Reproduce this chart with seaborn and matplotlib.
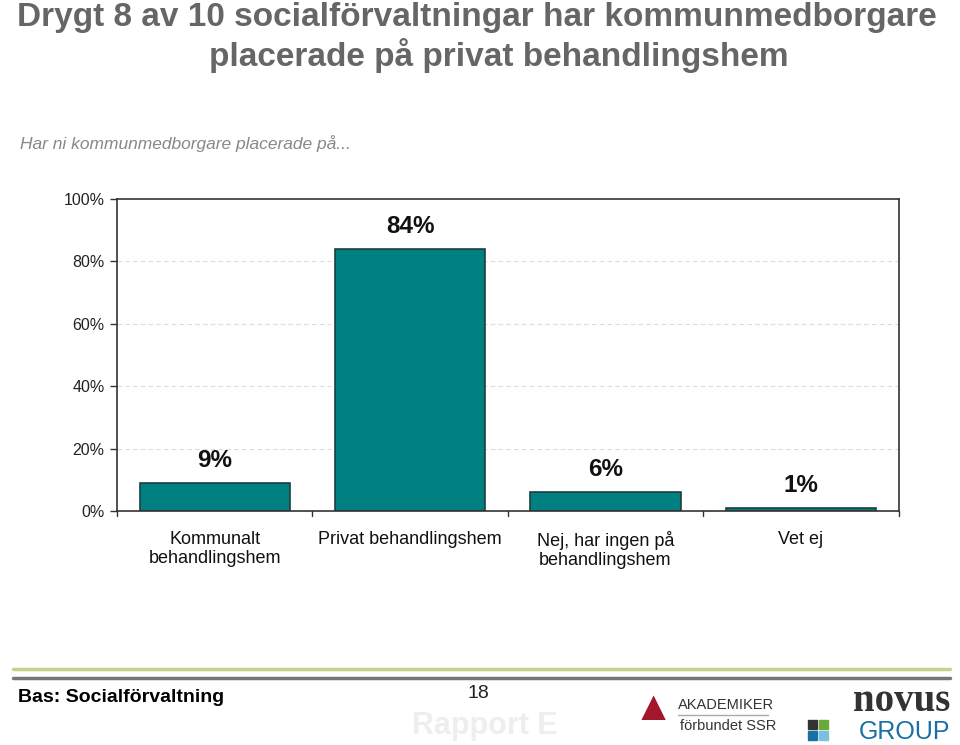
import matplotlib
matplotlib.use("Agg")
import matplotlib.pyplot as plt
import seaborn as sns
import pandas as pd
from matplotlib.lines import Line2D
from matplotlib.patches import Rectangle

# Data
categories = ["Kommunalt\nbehandlingshem", "Privat behandlingshem",
              "Nej, har ingen på\nbehandlingshem", "Vet ej"]
values = [9, 84, 6, 1]
value_labels = ["9%", "84%", "6%", "1%"]
y_ticks = [0, 20, 40, 60, 80, 100]

df = pd.DataFrame({"kategori": categories, "andel": values})

sns.set_theme(style="white")
plt.rcParams["font.family"] = ["Liberation Sans", "DejaVu Sans"]

fig = plt.figure(figsize=(9.6, 7.45), dpi=100)
ax = fig.add_axes([0.122, 0.314, 0.814, 0.419])

sns.barplot(data=df, x="kategori", y="andel", color="#008080", saturation=1,
            width=0.77, edgecolor="#1f3f3f", linewidth=1.2, ax=ax)

ax.set_ylim(0, 100)
ax.set_xlim(-0.5, len(categories) - 0.5)
ax.set_yticks(y_ticks)
ax.set_yticklabels([f"{t}%" for t in y_ticks], fontsize=11.5, color="#222222")
ax.set_xticks(range(len(categories)))
ax.set_xticklabels(categories, fontsize=13, color="#111111")
ax.tick_params(axis="x", length=0, pad=14)
ax.tick_params(axis="y", length=5, width=1, color="#333333", left=True, pad=4)
ax.set_xlabel("")
ax.set_ylabel("")

# category boundary ticks on x axis
for b in [k - 0.5 for k in range(len(categories) + 1)]:
    ax.plot([b, b], [0, -1.5], color="#333333", lw=1, clip_on=False)

for y in y_ticks[1:-1]:
    ax.axhline(y, color="#dddddd", lw=0.8, ls=(0, (4, 3)), zorder=0)

for s in ax.spines.values():
    s.set_color("#333333")
    s.set_linewidth(1.2)

for i, (v, lab) in enumerate(zip(values, value_labels)):
    ax.text(i, v + 7.2, lab, ha="center", va="center", fontsize=17.5,
            fontweight="bold", color="#111111")

# Titles
fig.text(0.497, 0.976, "Drygt 8 av 10 socialförvaltningar har kommunmedborgare",
         ha="center", va="center", fontsize=24, fontweight="bold", color="#666666")
fig.text(0.52, 0.926, "placerade på privat behandlingshem",
         ha="center", va="center", fontsize=24, fontweight="bold", color="#666666")
fig.text(0.021, 0.808, "Har ni kommunmedborgare placerade på...",
         ha="left", va="center", fontsize=12.5, style="italic", color="#888888")

# Footer
fig.add_artist(Line2D([0.014, 0.99], [0.102, 0.102], color="#c8d08a", lw=2.5))
fig.add_artist(Line2D([0.014, 0.99], [0.090, 0.090], color="#777777", lw=2.5))
fig.text(0.019, 0.064, "Bas: Socialförvaltning", ha="left", va="center",
         fontsize=14, fontweight="bold", color="#000000")
fig.text(0.498, 0.069, "18", ha="center", va="center", fontsize=14, color="#222222")
fig.text(0.505, 0.026, "Rapport E", ha="center", va="center", fontsize=22,
         fontweight="bold", color="#eeeeee")

# Akademiker logo (text approximation)
fig.text(0.68, 0.048, "▲", ha="center", va="center", fontsize=30, color="#a3172a")
fig.text(0.706, 0.054, "AKADEMIKER", ha="left", va="center", fontsize=10.5, color="#333333")
fig.add_artist(Line2D([0.706, 0.8], [0.04, 0.04], color="#aaaaaa", lw=1))
fig.text(0.708, 0.026, "förbundet SSR", ha="left", va="center", fontsize=10.5, color="#333333")

# Novus logo (text approximation)
fig.text(0.99, 0.058, "novus", ha="right", va="center", fontsize=28,
         family=["Liberation Serif", "DejaVu Serif"], fontweight="bold", color="#333333")
fig.text(0.99, 0.018, "GROUP", ha="right", va="center", fontsize=18, color="#1a6fa3")
for (x0, y0, c) in [(0.842, 0.022, "#333333"), (0.853, 0.022, "#6aaa3a"),
                    (0.842, 0.007, "#1a6fa3"), (0.853, 0.007, "#7cc0e0")]:
    fig.add_artist(Rectangle((x0, y0), 0.009, 0.012, color=c, transform=fig.transFigure))

fig.savefig("out.png", dpi=100)
